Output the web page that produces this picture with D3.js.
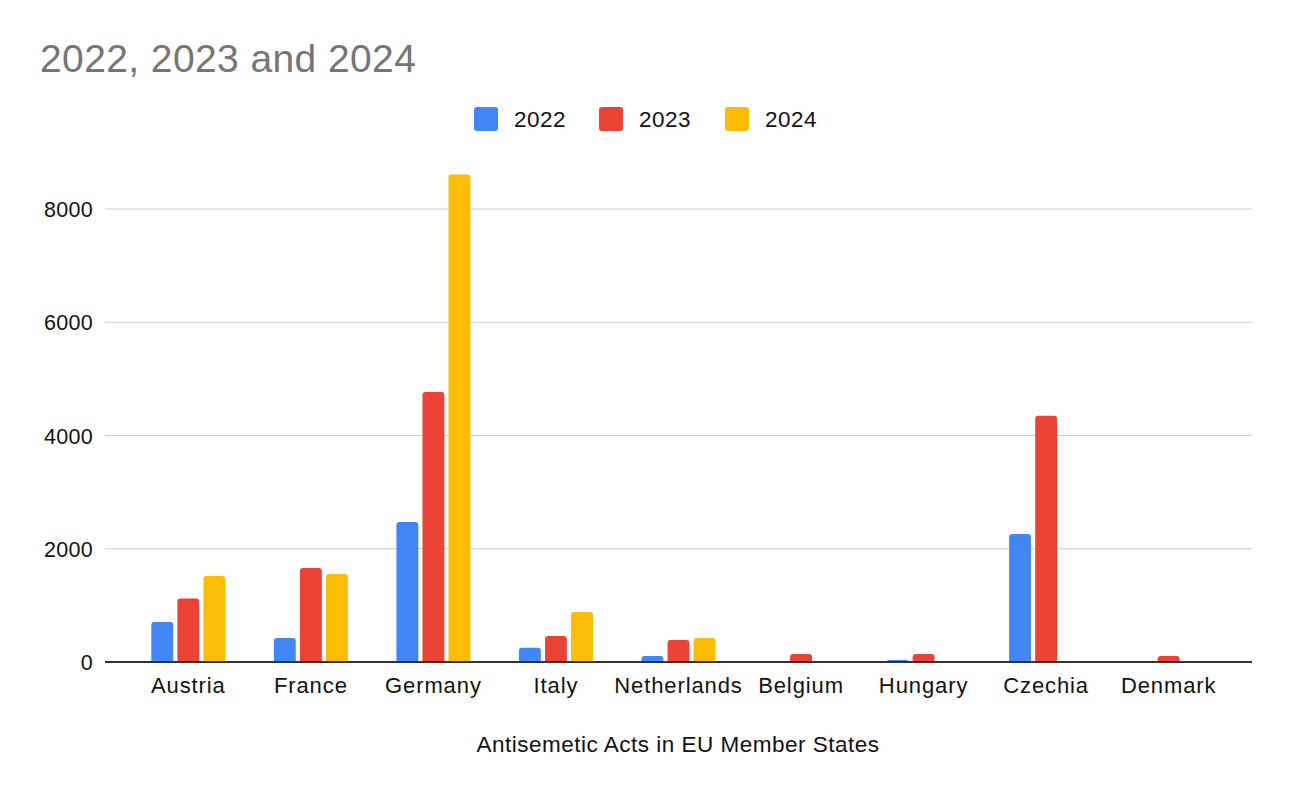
<!DOCTYPE html>
<html>
<head>
<meta charset="utf-8">
<script src="https://cdn.jsdelivr.net/npm/d3@7"></script>
<style>
  body { margin: 0; background: #fff; }
  text { font-family: Arial, "Liberation Sans", sans-serif; }
</style>
</head>
<body>
<div class="chart"></div>
<script>
// data
var countries = ["Austria", "France", "Germany", "Italy", "Netherlands", "Belgium", "Hungary", "Czechia", "Denmark"];
var years = ["2022", "2023", "2024"];
var v2022 = [707, 424, 2474, 250, 106, 0, 35, 2262, 0];
var v2023 = [1120, 1660, 4770, 460, 390, 141, 141, 4347, 106];
var v2024 = [1520, 1555, 8610, 883, 424, 0, 0, 0, 0];
var yTicks = [0, 2000, 4000, 6000, 8000];
var colors = ["#4285f4", "#ea4335", "#fbbc04"];

var W = 1292, H = 798;
var series = [v2022, v2023, v2024];

var svg = d3.select(".chart").append("svg")
   .attr("width", W)
   .attr("height", H);

var x0 = d3.scaleBand()
   .domain(countries)
   .range([105, 1252])
   .paddingInner(0)
   .paddingOuter(0.18);
var x1 = d3.scaleBand()
   .domain(years)
   .range([-37, 37])
   .paddingInner(0.16);
var y = d3.scaleLinear()
   .domain([0, 8000])
   .range([662, 209]);

// title
svg.append("text")
   .attr("x", 40).attr("y", 72)
   .attr("font-size", 39)
   .attr("letter-spacing", 0.4)
   .attr("fill", "#757575")
   .text("2022, 2023 and 2024");

// gridlines
svg.selectAll(".grid")
   .data(yTicks.slice(1))
   .enter().append("line")
   .attr("x1", 105).attr("x2", 1252)
   .attr("y1", function(d) { return y(d); })
   .attr("y2", function(d) { return y(d); })
   .attr("stroke", "#cccccc")
   .attr("stroke-width", 1.2);

// y labels
svg.selectAll(".ylab")
   .data(yTicks)
   .enter().append("text")
   .attr("x", 93)
   .attr("y", function(d) { return y(d) + 8; })
   .attr("text-anchor", "end")
   .attr("font-size", 21.5)
   .attr("letter-spacing", 0.3)
   .attr("fill", "#111")
   .text(function(d) { return d; });

// bars with rounded top
function barPath(x, w, top, bottom) {
   var r = Math.min(3, (bottom - top), w / 2);
   return "M" + x + "," + bottom +
      "V" + (top + r) +
      "Q" + x + "," + top + " " + (x + r) + "," + top +
      "H" + (x + w - r) +
      "Q" + (x + w) + "," + top + " " + (x + w) + "," + (top + r) +
      "V" + bottom + "Z";
}

years.forEach(function(yr, i) {
   svg.append("g").selectAll("path")
      .data(countries.map(function(c, j) { return {c: c, v: series[i][j]}; }).filter(function(d) { return d.v > 0; }))
      .enter().append("path")
      .attr("fill", colors[i])
      .attr("d", function(d) {
         var cx = x0(d.c) + x0.bandwidth() / 2;
         return barPath(cx + x1(yr), x1.bandwidth(), y(d.v), y(0));
      });
});

// baseline
svg.append("line")
   .attr("x1", 105).attr("x2", 1252)
   .attr("y1", y(0)).attr("y2", y(0))
   .attr("stroke", "#333").attr("stroke-width", 2);

// x labels
svg.selectAll(".xlab")
   .data(countries)
   .enter().append("text")
   .attr("x", function(d) { return x0(d) + x0.bandwidth() / 2; })
   .attr("y", 693)
   .attr("text-anchor", "middle")
   .attr("font-size", 22)
   .attr("letter-spacing", 0.9)
   .attr("fill", "#111")
   .text(function(d) { return d; });

// x axis title
svg.append("text")
   .attr("x", 678).attr("y", 752)
   .attr("text-anchor", "middle")
   .attr("font-size", 22.5)
   .attr("letter-spacing", 0.5)
   .attr("fill", "#111")
   .text("Antisemetic Acts in EU Member States");

// legend
var lx = [474, 599, 725];
years.forEach(function(yr, i) {
   svg.append("rect")
      .attr("x", lx[i]).attr("y", 107)
      .attr("width", 24).attr("height", 24)
      .attr("rx", 3)
      .attr("fill", colors[i]);
   svg.append("text")
      .attr("x", lx[i] + 40).attr("y", 127)
      .attr("font-size", 22.5)
      .attr("letter-spacing", 0.5)
      .attr("fill", "#111")
      .text(yr);
});
</script>
</body>
</html>
